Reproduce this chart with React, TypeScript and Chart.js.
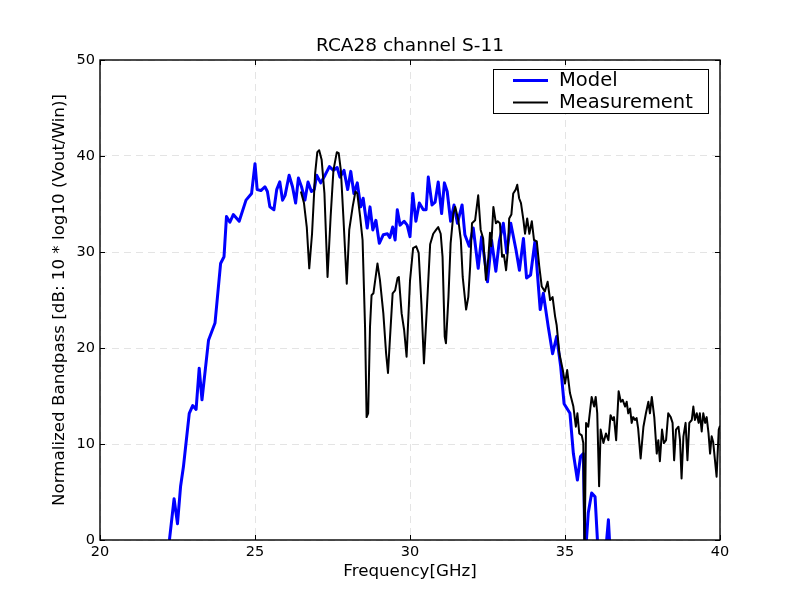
import React, { useEffect, useRef } from "react";
import { Chart, registerables } from "chart.js";

Chart.register(...registerables);

const chartTitle = "RCA28 channel S-11";
const xAxisLabel = "Frequency[GHz]";
const yAxisLabel = "Normalized Bandpass [dB: 10 * log10 (Vout/Win)]";
const seriesNames = ["Model", "Measurement"];
const xTickValues = [20, 25, 30, 35, 40];
const yTickValues = [0, 10, 20, 30, 40, 50];

const modelFreq = [
  22.1, 22.24, 22.39, 22.5, 22.6, 22.69, 22.88, 22.99, 23.1, 23.2, 23.29, 23.5, 23.71, 23.89, 24.0, 24.08,
  24.19, 24.3, 24.49, 24.71, 24.89, 25.0, 25.07, 25.19, 25.32, 25.4, 25.48, 25.61, 25.7, 25.8, 25.89, 25.97,
  26.1, 26.21, 26.31, 26.4, 26.5, 26.61, 26.71, 26.82, 26.91, 26.99, 27.12, 27.26, 27.4, 27.53, 27.65, 27.74,
  27.87, 27.99, 28.09, 28.19, 28.3, 28.41, 28.49, 28.62, 28.71, 28.8, 28.9, 29.01, 29.14, 29.27, 29.35, 29.44,
  29.52, 29.59, 29.68, 29.81, 29.91, 30.0, 30.09, 30.19, 30.3, 30.43, 30.52, 30.59, 30.71, 30.81, 30.91, 31.02,
  31.11, 31.2, 31.31, 31.42, 31.53, 31.68, 31.77, 31.91, 32.04, 32.2, 32.31, 32.5, 32.63, 32.77, 32.88, 33.01,
  33.12, 33.25, 33.42, 33.53, 33.66, 33.76, 33.89, 34.03, 34.2, 34.3, 34.46, 34.6, 34.73, 34.86, 34.97, 35.16,
  35.27, 35.4, 35.5, 35.59, 35.65, 35.75, 35.86, 35.97, 36.08, 36.29, 36.4, 36.47,
];
const modelDb = [
  -3, 0, 4.3, 1.7, 5.6, 7.6, 13.2, 14.0, 13.6, 17.9, 14.6, 20.8, 22.6, 28.8, 29.5, 33.7,
  33.1, 33.9, 33.2, 35.4, 36.1, 39.2, 36.5, 36.4, 36.8, 36.3, 34.7, 34.4, 36.5, 37.3, 35.4, 35.9,
  38.0, 36.8, 35.1, 37.7, 36.8, 35.4, 37.3, 36.3, 36.5, 38.0, 37.2, 38.0, 38.9, 38.5, 38.8, 37.8,
  38.5, 36.5, 38.4, 36.1, 37.2, 34.7, 35.6, 32.5, 34.7, 32.3, 33.3, 30.9, 31.8, 31.9, 31.5, 32.6,
  31.25, 34.4, 32.8, 33.2, 32.8, 31.6, 36.1, 33.2, 35.1, 34.4, 34.4, 37.8, 34.9, 35.2, 37.3, 34.0,
  37.2, 36.3, 33.2, 34.9, 33.0, 34.9, 31.8, 30.6, 32.5, 28.3, 31.6, 26.9, 31.25, 28.0, 31.1, 33.0,
  29.9, 33.0, 30.2, 28.1, 31.4, 27.3, 27.6, 31.1, 24.0, 25.7, 22.2, 19.4, 21.2, 18.1, 14.2, 13.2,
  9.0, 6.25, 8.7, 9.0, -2, 2.8, 4.9, 4.5, -2, -2, 2.1, -2,
];

const measFreq = [
  26.48, 26.58, 26.67, 26.75, 26.84, 26.94, 27.01, 27.07, 27.15, 27.24, 27.34, 27.44, 27.53, 27.64, 27.7, 27.77,
  27.85, 27.96, 28.04, 28.15, 28.24, 28.3, 28.39, 28.47, 28.55, 28.6, 28.65, 28.71, 28.76, 28.82, 28.95, 29.03,
  29.14, 29.23, 29.29, 29.35, 29.44, 29.52, 29.6, 29.64, 29.73, 29.81, 29.89, 30.0, 30.1, 30.2, 30.28, 30.37,
  30.45, 30.55, 30.65, 30.75, 30.84, 30.91, 30.99, 31.05, 31.12, 31.16, 31.24, 31.31, 31.4, 31.46, 31.56, 31.64,
  31.7, 31.81, 31.88, 31.94, 32.0, 32.1, 32.2, 32.28, 32.36, 32.45, 32.53, 32.58, 32.62, 32.69, 32.77, 32.83,
  32.9, 32.97, 33.03, 33.1, 33.15, 33.2, 33.27, 33.33, 33.41, 33.46, 33.52, 33.58, 33.66, 33.71, 33.78, 33.85,
  33.93, 34.0, 34.09, 34.17, 34.25, 34.35, 34.44, 34.52, 34.6, 34.68, 34.73, 34.82, 34.93, 35.0, 35.07, 35.16,
  35.27, 35.35, 35.4, 35.46, 35.54, 35.59, 35.63, 35.68, 35.75, 35.86, 35.94, 35.99, 36.04, 36.1, 36.15, 36.24,
  36.32, 36.4, 36.47, 36.54, 36.58, 36.65, 36.73, 36.8, 36.86, 36.94, 36.99, 37.04, 37.1, 37.15, 37.2, 37.26,
  37.31, 37.36, 37.44, 37.53, 37.61, 37.69, 37.74, 37.8, 37.88, 37.96, 38.01, 38.06, 38.13, 38.19, 38.26, 38.33,
  38.41, 38.47, 38.52, 38.58, 38.66, 38.71, 38.76, 38.82, 38.89, 38.95, 39.01, 39.09, 39.14, 39.19, 39.25, 39.31,
  39.35, 39.41, 39.46, 39.52, 39.57, 39.63, 39.68, 39.73, 39.78, 39.89, 39.96, 40.0,
];
const measDb = [
  36.3, 35.1, 32.6, 28.3, 31.9, 38.2, 40.4, 40.6, 39.6, 36.1, 27.4, 33.7, 38.5, 40.4, 40.3, 38.5,
  33.7, 26.7, 32.3, 34.7, 36.3, 36.1, 33.7, 31.25, 22.2, 12.8, 13.2, 22.2, 25.5, 25.7, 28.8, 27.1,
  23.6, 19.4, 17.4, 20.8, 25.7, 26.0, 27.3, 27.4, 23.6, 21.9, 19.1, 27.0, 30.4, 30.6, 29.9, 24.5,
  18.4, 24.5, 30.8, 31.9, 32.3, 32.6, 31.9, 29.5, 21.2, 20.5, 25.3, 30.9, 34.0, 34.7, 33.3, 31.25,
  27.4, 24.0, 25.3, 28.5, 33.0, 33.3, 35.9, 32.3, 31.4, 27.1, 29.5, 32.0, 30.6, 34.7, 33.0, 33.2,
  33.0, 29.5, 29.7, 28.1, 29.9, 33.5, 33.9, 36.1, 36.5, 37.0, 35.6, 35.1, 33.3, 31.9, 33.5, 31.9,
  33.2, 31.25, 31.1, 28.5, 26.4, 25.9, 26.9, 25.0, 25.3, 23.3, 22.4, 19.4, 17.7, 16.3, 17.7, 15.3,
  13.9, 11.8, 13.2, 11.1, 10.9, 10.1, -2, 12.2, 11.8, 14.9, 13.9, 14.9, 13.2, 5.6, 11.5, 10.1,
  11.1, 10.4, 13.0, 12.5, 12.8, 10.4, 15.5, 14.4, 14.6, 13.9, 14.4, 13.2, 13.7, 12.2, 12.8, 12.5,
  12.7, 11.6, 8.5, 11.8, 13.2, 14.4, 13.2, 14.9, 12.8, 9.0, 10.4, 8.2, 11.5, 10.1, 10.4, 13.2,
  12.8, 12.2, 8.3, 11.5, 11.8, 10.4, 6.4, 10.8, 12.2, 8.3, 12.2, 12.5, 13.9, 12.5, 13.2, 12.2,
  13.2, 11.3, 13.2, 12.2, 12.8, 11.1, 9.0, 10.8, 10.2, 6.6, 11.5, 11.9,
];

const FONT = "'DejaVu Sans', 'Liberation Sans', sans-serif";
const MODEL_COLOR = "#0000ff";
const MEAS_COLOR = "#000000";

const framePlugin = {
  id: "mplFrame",
  afterDatasetsDraw(chart: any) {
    const { ctx, chartArea } = chart;
    const { left, right, top, bottom } = chartArea;
    const xs = chart.scales.x;
    const ys = chart.scales.y;
    ctx.save();
    ctx.strokeStyle = "#000";
    ctx.lineWidth = 1;
    ctx.setLineDash([]);
    const tl = 5;
    ctx.beginPath();
    for (const v of xTickValues) {
      const px = Math.round(xs.getPixelForValue(v)) + 0.5;
      ctx.moveTo(px, bottom);
      ctx.lineTo(px, bottom - tl);
      ctx.moveTo(px, top);
      ctx.lineTo(px, top + tl);
    }
    for (const v of yTickValues) {
      const py = Math.round(ys.getPixelForValue(v)) + 0.5;
      ctx.moveTo(left, py);
      ctx.lineTo(left + tl, py);
      ctx.moveTo(right, py);
      ctx.lineTo(right - tl, py);
    }
    ctx.stroke();
    ctx.lineWidth = 1.4;
    ctx.strokeRect(left, top, right - left, bottom - top);

    // title, centred over the plot area
    ctx.fillStyle = "#000";
    ctx.font = `18.5px ${FONT}`;
    ctx.textAlign = "center";
    ctx.textBaseline = "alphabetic";
    ctx.fillText(chartTitle, (left + right) / 2, top - 9);

    // legend
    const bx = right - 227;
    const by = top + 9;
    const bw = 215;
    const bh = 44;
    ctx.fillStyle = "#fff";
    ctx.fillRect(bx, by, bw, bh);
    ctx.lineWidth = 1;
    ctx.strokeStyle = "#000";
    ctx.strokeRect(bx + 0.5, by + 0.5, bw, bh);
    const rows = [
      { name: seriesNames[0], color: MODEL_COLOR, width: 3, y: by + 11.5 },
      { name: seriesNames[1], color: MEAS_COLOR, width: 2, y: by + 33.5 },
    ];
    ctx.font = `19.5px ${FONT}`;
    ctx.textBaseline = "middle";
    ctx.textAlign = "left";
    for (const r of rows) {
      ctx.strokeStyle = r.color;
      ctx.lineWidth = r.width;
      ctx.beginPath();
      ctx.moveTo(bx + 20, r.y);
      ctx.lineTo(bx + 55, r.y);
      ctx.stroke();
      ctx.fillStyle = "#000";
      ctx.fillText(r.name, bx + 66, r.y);
    }
    ctx.restore();
  },
};

export default function App() {
  const canvasRef = useRef<HTMLCanvasElement | null>(null);

  useEffect(() => {
    document.body.style.margin = "0";
    const canvas = canvasRef.current;
    if (!canvas) return;
    const modelData = modelFreq.map((f, i) => ({ x: f, y: modelDb[i] }));
    const measData = measFreq.map((f, i) => ({ x: f, y: measDb[i] }));
    const chart = new Chart(canvas, {
      type: "line",
      data: {
        datasets: [
          {
            label: seriesNames[0],
            data: modelData,
            borderColor: MODEL_COLOR,
            backgroundColor: MODEL_COLOR,
            borderWidth: 3,
            pointRadius: 0,
            tension: 0,
            fill: false,
            clip: 0,
            order: 1,
            borderJoinStyle: "round",
          },
          {
            label: seriesNames[1],
            data: measData,
            borderColor: MEAS_COLOR,
            backgroundColor: MEAS_COLOR,
            borderWidth: 2,
            pointRadius: 0,
            tension: 0,
            fill: false,
            clip: 0,
            order: 0,
            borderJoinStyle: "round",
          },
        ],
      },
      plugins: [framePlugin],
      options: {
        responsive: false,
        animation: false,
        devicePixelRatio: 1,
        layout: { padding: { left: 0, right: 80, top: 60, bottom: 0 } },
        plugins: {
          legend: { display: false },
          tooltip: { enabled: false },
          title: { display: false },
        },
        scales: {
          x: {
            type: "linear",
            min: 20,
            max: 40,
            afterFit(scale: any) {
              scale.height = 60;
              scale.paddingLeft = 0;
              scale.paddingRight = 0;
            },
            afterBuildTicks(scale: any) {
              scale.ticks = xTickValues.map((v) => ({ value: v }));
            },
            grid: { color: "#e4e4e4", lineWidth: 1, drawTicks: false },
            border: { display: false, dash: [7, 5] },
            ticks: {
              color: "#000",
              font: { family: FONT, size: 14.5 },
              padding: 4,
              maxRotation: 0,
              autoSkip: false,
            },
            title: {
              display: true,
              text: xAxisLabel,
              color: "#000",
              font: { family: FONT, size: 16.7 },
              padding: { top: 0, bottom: 18 },
            },
          },
          y: {
            type: "linear",
            min: 0,
            max: 50,
            afterFit(scale: any) {
              scale.width = 100;
              scale.paddingTop = 0;
              scale.paddingBottom = 0;
            },
            afterBuildTicks(scale: any) {
              scale.ticks = yTickValues.map((v) => ({ value: v }));
            },
            grid: { color: "#e4e4e4", lineWidth: 1, drawTicks: false },
            border: { display: false, dash: [7, 5] },
            ticks: {
              color: "#000",
              font: { family: FONT, size: 14.5 },
              padding: 5,
              autoSkip: false,
            },
            title: {
              display: true,
              text: yAxisLabel,
              color: "#000",
              font: { family: FONT, size: 16.7 },
              padding: { top: 50, bottom: 0 },
            },
          },
        },
      },
    } as any);
    return () => chart.destroy();
  }, []);

  return (
    <div style={{ position: "absolute", left: 0, top: 0, width: 800, height: 600, background: "#fff" }}>
      <canvas ref={canvasRef} width={800} height={600} style={{ width: 800, height: 600, display: "block" }} />
    </div>
  );
}
